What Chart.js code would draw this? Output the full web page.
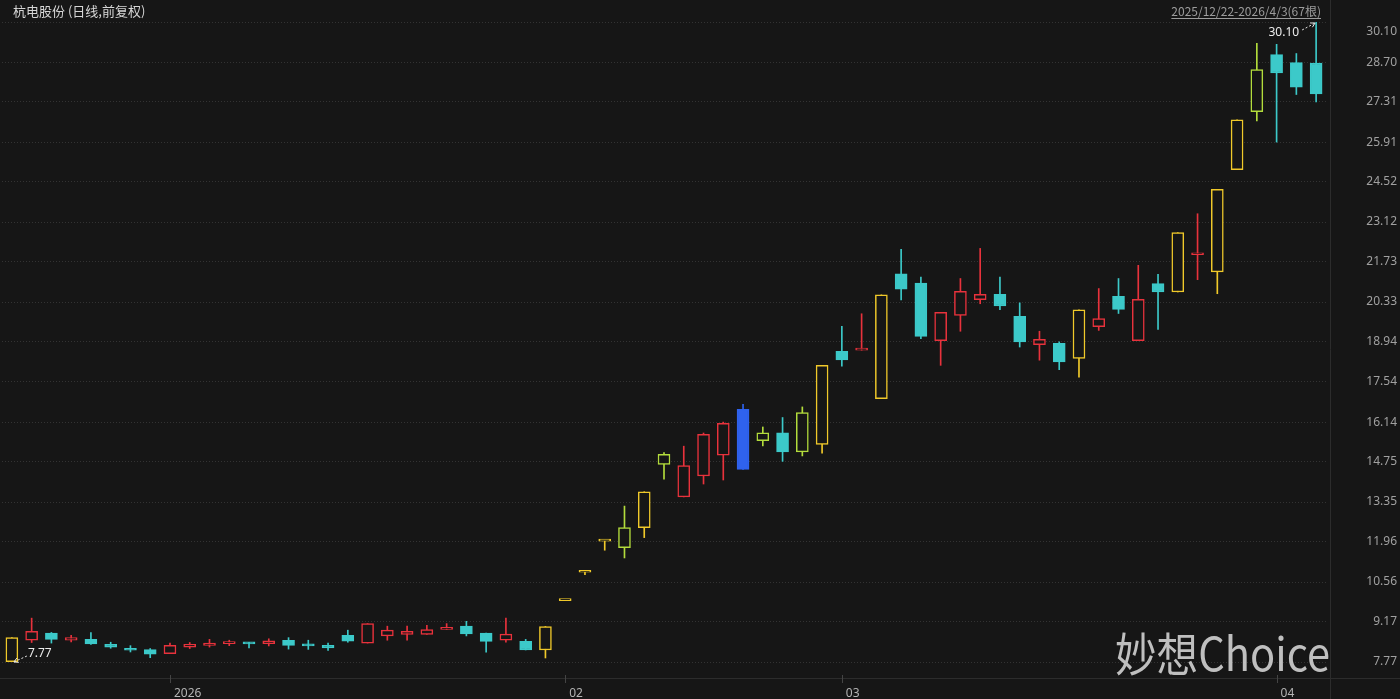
<!DOCTYPE html>
<html>
<head>
<meta charset="utf-8">
<script src="https://cdn.jsdelivr.net/npm/chart.js@4.4.1/dist/chart.umd.min.js"></script>
<style>
  html, body { margin: 0; padding: 0; background: #161616; overflow: hidden; }
  canvas { display: block; }
</style>
</head>
<body>
<canvas id="kChart" width="1400" height="699"></canvas>
<script>
// 杭电股份 日K (2025/12/22 - 2026/4/3, 67根)
const dates = [
    '2025-12-22','2025-12-23','2025-12-24','2025-12-25','2025-12-26','2025-12-29','2025-12-30','2025-12-31',
    '2026-01-05','2026-01-06','2026-01-07','2026-01-08','2026-01-09','2026-01-12','2026-01-13','2026-01-14',
    '2026-01-15','2026-01-16','2026-01-19','2026-01-20','2026-01-21','2026-01-22','2026-01-23','2026-01-26',
    '2026-01-27','2026-01-28','2026-01-29','2026-01-30',
    '2026-02-02','2026-02-03','2026-02-04','2026-02-05','2026-02-06','2026-02-09','2026-02-10','2026-02-11',
    '2026-02-12','2026-02-13','2026-02-24','2026-02-25','2026-02-26','2026-02-27',
    '2026-03-02','2026-03-03','2026-03-04','2026-03-05','2026-03-06','2026-03-09','2026-03-10','2026-03-11',
    '2026-03-12','2026-03-13','2026-03-16','2026-03-17','2026-03-18','2026-03-19','2026-03-20','2026-03-23',
    '2026-03-24','2026-03-25','2026-03-26','2026-03-27','2026-03-30','2026-03-31',
    '2026-04-01','2026-04-02','2026-04-03'
];

const opens = [
    7.78, 8.53, 8.78, 8.53, 8.56, 8.39, 8.25, 8.20, 8.06, 8.29,
    8.35, 8.41, 8.46, 8.41, 8.53, 8.37, 8.35, 8.70, 8.43, 8.68,
    8.73, 8.73, 8.91, 9.02, 8.78, 8.53, 8.49, 8.19, 9.91, 10.90,
    11.99, 11.76, 12.46, 14.66, 13.53, 14.26, 14.99, 16.59, 15.49, 15.77,
    15.10, 15.36, 18.61, 18.65, 16.96, 21.31, 20.99, 18.98, 19.86, 20.41,
    20.60, 19.83, 18.84, 18.89, 18.36, 19.47, 20.53, 18.98, 20.97, 20.68,
    21.98, 21.38, 24.95, 26.97, 28.96, 28.68, 28.67
];
const highs = [
    8.62, 9.30, 8.80, 8.70, 8.80, 8.46, 8.34, 8.24, 8.43, 8.45,
    8.56, 8.53, 8.46, 8.58, 8.62, 8.53, 8.43, 8.88, 9.11, 9.02,
    9.02, 9.05, 9.11, 9.19, 8.78, 9.30, 8.56, 9.01, 9.91, 10.90,
    11.99, 13.21, 13.71, 15.08, 15.30, 15.76, 16.14, 16.76, 15.97, 16.30,
    16.67, 18.12, 19.48, 19.92, 20.58, 22.17, 21.20, 19.97, 21.15, 22.20,
    21.20, 20.30, 19.31, 18.94, 20.06, 20.80, 21.15, 21.61, 21.30, 22.75,
    23.41, 24.26, 26.69, 29.36, 29.32, 29.00, 30.10
];
const lows = [
    7.77, 8.45, 8.43, 8.47, 8.38, 8.25, 8.12, 7.92, 8.06, 8.24,
    8.29, 8.34, 8.26, 8.33, 8.22, 8.21, 8.17, 8.46, 8.43, 8.53,
    8.53, 8.73, 8.91, 8.68, 8.11, 8.46, 8.19, 7.91, 9.91, 10.82,
    11.67, 11.40, 12.11, 14.15, 13.53, 13.98, 14.12, 14.49, 15.31, 14.77,
    14.96, 15.06, 18.09, 18.65, 16.96, 20.40, 19.05, 18.12, 19.31, 20.27,
    20.06, 18.76, 18.30, 17.97, 17.71, 19.34, 19.93, 18.98, 19.37, 20.68,
    21.11, 20.62, 24.95, 26.65, 25.91, 27.57, 27.31
];
const closes = [
    8.62, 8.84, 8.56, 8.62, 8.40, 8.29, 8.18, 8.04, 8.35, 8.39,
    8.43, 8.45, 8.40, 8.51, 8.35, 8.33, 8.26, 8.50, 9.11, 8.88,
    8.84, 8.90, 8.98, 8.75, 8.49, 8.74, 8.19, 9.01, 9.91, 10.90,
    11.99, 12.46, 13.71, 15.02, 14.62, 15.71, 16.10, 14.49, 15.77, 15.10,
    16.47, 18.12, 18.31, 18.71, 20.58, 20.78, 19.13, 19.97, 20.70, 20.60,
    20.19, 18.94, 19.03, 18.24, 20.06, 19.75, 20.07, 20.42, 20.68, 22.75,
    22.05, 24.26, 26.69, 28.44, 28.32, 27.83, 27.59
];
// U = 涨停收盘, T = 触及涨停未封住, D = 跌停, '' = 普通
const limitStatus = [
    'U','','','','','','','','','',
    '','','','','','','','','','',
    '','','','','','','','U','U','U',
    'U','T','U','T','','','','D','T','',
    'T','U','','','U','','','','','',
    '','','','','U','','','','','U',
    '','U','U','T','','',''
];

const yTickLabels = ['7.77','9.17','10.56','11.96','13.35','14.75','16.14','17.54','18.94',
    '20.33','21.73','23.12','24.52','25.91','27.31','28.70','30.10'];

const stockTitle = '杭电股份 (日线,前复权)';
const rangeText = '2025/12/22-2026/4/3(67根)';
const watermark = '妙想Choice';

const BG = '#161616';
const COLORS = { up: '#e8323c', down: '#3cc9c9', limitUp: '#f0c92a', touched: '#b3dc3c', limitDown: '#2f62ee' };

function candleColor(i) {
    if (limitStatus[i] === 'U') return COLORS.limitUp;
    if (limitStatus[i] === 'T') return COLORS.touched;
    if (limitStatus[i] === 'D') return COLORS.limitDown;
    return closes[i] >= opens[i] ? COLORS.up : COLORS.down;
}
function isFilled(i) {
    if (limitStatus[i] === 'D') return true;
    if (limitStatus[i] === 'U' || limitStatus[i] === 'T') return false;
    return closes[i] < opens[i];
}

// 月份切换处显示标签（跨年显示年份）
function monthLabel(i) {
    if (i === 0) return '';
    const m = dates[i].slice(5, 7), pm = dates[i - 1].slice(5, 7);
    if (m === pm) return '';
    return m === '01' ? dates[i].slice(0, 4) : m;
}

const candleColors = dates.map((d, i) => candleColor(i));
const bodyFills = dates.map((d, i) => isFilled(i) ? candleColor(i) : BG);

function drawArrow(ctx, x1, y1, x2, y2) {
    ctx.save();
    ctx.strokeStyle = '#e6e6e6';
    ctx.lineWidth = 1;
    ctx.setLineDash([2, 2]);
    ctx.beginPath();
    ctx.moveTo(x1, y1);
    ctx.lineTo(x2, y2);
    ctx.stroke();
    ctx.setLineDash([]);
    const a = Math.atan2(y2 - y1, x2 - x1);
    ctx.beginPath();
    ctx.moveTo(x2 - 5 * Math.cos(a - 0.5), y2 - 5 * Math.sin(a - 0.5));
    ctx.lineTo(x2, y2);
    ctx.lineTo(x2 - 5 * Math.cos(a + 0.5), y2 - 5 * Math.sin(a + 0.5));
    ctx.stroke();
    ctx.restore();
}

const decorPlugin = {
    id: 'decor',
    beforeDraw(chart) {
        const ctx = chart.ctx;
        ctx.save();
        ctx.fillStyle = BG;
        ctx.fillRect(0, 0, chart.width, chart.height);
        ctx.restore();
    },
    afterDraw(chart) {
        const ctx = chart.ctx;
        const xs = chart.scales.x, ys = chart.scales.y;
        const area = chart.chartArea;
        ctx.save();

        // 分隔线
        ctx.strokeStyle = '#2c2c2c';
        ctx.lineWidth = 1;
        ctx.beginPath();
        ctx.moveTo(area.right + 4.5, 0);
        ctx.lineTo(area.right + 4.5, chart.height);
        ctx.moveTo(0, area.bottom + 16.5);
        ctx.lineTo(chart.width, area.bottom + 16.5);
        ctx.stroke();

        // 月份刻度
        ctx.strokeStyle = '#444';
        dates.forEach((d, i) => {
            if (!monthLabel(i)) return;
            const px = Math.round(xs.getPixelForValue(i)) + 0.5;
            ctx.beginPath();
            ctx.moveTo(px, area.bottom + 13);
            ctx.lineTo(px, area.bottom + 21);
            ctx.stroke();
        });

        // 标题
        ctx.font = '13px "Noto Sans CJK SC", "Noto Sans", sans-serif';
        ctx.fillStyle = '#d6d6d6';
        ctx.textBaseline = 'middle';
        ctx.textAlign = 'left';
        ctx.fillText(stockTitle, 13, 11);

        ctx.font = '12px "Noto Sans CJK SC", "Noto Sans", sans-serif';
        ctx.fillStyle = '#9c9c9c';
        ctx.textAlign = 'right';
        ctx.fillText(rangeText, 1321, 11);
        const rw = ctx.measureText(rangeText).width;
        ctx.strokeStyle = '#9c9c9c';
        ctx.beginPath();
        ctx.moveTo(1321 - rw, 18.5);
        ctx.lineTo(1321, 18.5);
        ctx.stroke();

        // 顶部刻度标签（下移以免贴边）
        ctx.font = '12px "Noto Sans", sans-serif';
        ctx.fillStyle = '#a0a0a0';
        ctx.fillText(yTickLabels[yTickLabels.length - 1], chart.width - 3,
            ys.getPixelForValue(parseFloat(yTickLabels[yTickLabels.length - 1])) + 10);

        // 最高/最低价标注
        const hi = Math.max(...highs), hiIdx = highs.indexOf(hi);
        const lo = Math.min(...lows), loIdx = lows.indexOf(lo);
        const hx = xs.getPixelForValue(hiIdx), hy = ys.getPixelForValue(hi);
        const lx = xs.getPixelForValue(loIdx), ly = ys.getPixelForValue(lo);
        ctx.fillStyle = '#ececec';
        ctx.textAlign = 'right';
        ctx.fillText(hi.toFixed(2), hx - 17, hy + 11);
        drawArrow(ctx, hx - 14, hy + 8, hx - 1, hy + 1);
        ctx.textAlign = 'left';
        ctx.fillText(lo.toFixed(2), lx + 16, ly - 8);
        drawArrow(ctx, lx + 15, ly - 6, lx + 2, ly);

        // 水印
        ctx.font = '46px "Noto Sans CJK SC", sans-serif';
        ctx.fillStyle = 'rgba(215, 215, 215, 0.88)';
        ctx.textAlign = 'left';
        ctx.textBaseline = 'alphabetic';
        const ww = ctx.measureText(watermark).width;
        ctx.translate(1115, 671);
        ctx.scale(215 / ww, 1);
        ctx.fillText(watermark, 0, 0);
        ctx.restore();
    }
};

Chart.defaults.font.family = '"Noto Sans", "Noto Sans CJK SC", sans-serif';

const ctx = document.getElementById('kChart').getContext('2d');
new Chart(ctx, {
    type: 'bar',
    data: {
        labels: dates,
        datasets: [
            {
                label: 'body',
                data: dates.map((d, i) => [opens[i], closes[i]]),
                backgroundColor: bodyFills,
                borderColor: candleColors,
                borderWidth: 1.5,
                borderSkipped: false,
                barThickness: 12,
                minBarLength: 2,
                grouped: false
            },
            {
                label: 'wick',
                data: dates.map((d, i) => [lows[i], highs[i]]),
                backgroundColor: candleColors,
                borderWidth: 0,
                barThickness: 1,
                grouped: false
            }
        ]
    },
    options: {
        responsive: false,
        animation: false,
        events: [],
        layout: { padding: { top: 22, left: 2, right: 3, bottom: 0 } },
        plugins: {
            legend: { display: false },
            tooltip: { enabled: false }
        },
        scales: {
            x: {
                offset: true,
                // 刻度线透明，仅用其长度把标签推到底部
                grid: { display: true, drawOnChartArea: false, drawTicks: true, tickLength: 24, color: 'rgba(0,0,0,0)' },
                border: { display: false },
                ticks: {
                    autoSkip: false,
                    maxRotation: 0,
                    align: 'start',
                    labelOffset: 4,
                    padding: 0,
                    color: '#b4b4b4',
                    font: { size: 12 },
                    callback: (v, i) => monthLabel(i)
                },
                afterFit: (s) => { s.height = 37; }
            },
            y: {
                position: 'right',
                min: 7.77,
                max: 30.10,
                afterBuildTicks: (s) => { s.ticks = yTickLabels.map(t => ({ value: parseFloat(t) })); },
                grid: { color: '#333333', drawTicks: false },
                border: { display: false, dash: [1, 2] },
                ticks: {
                    padding: 0,
                    crossAlign: 'far',
                    color: '#a0a0a0',
                    font: { size: 12 },
                    callback: (v, i) => i === yTickLabels.length - 1 ? '' : yTickLabels[i]
                },
                afterFit: (s) => { s.width = 71; }
            }
        }
    },
    plugins: [decorPlugin]
});
</script>
</body>
</html>
